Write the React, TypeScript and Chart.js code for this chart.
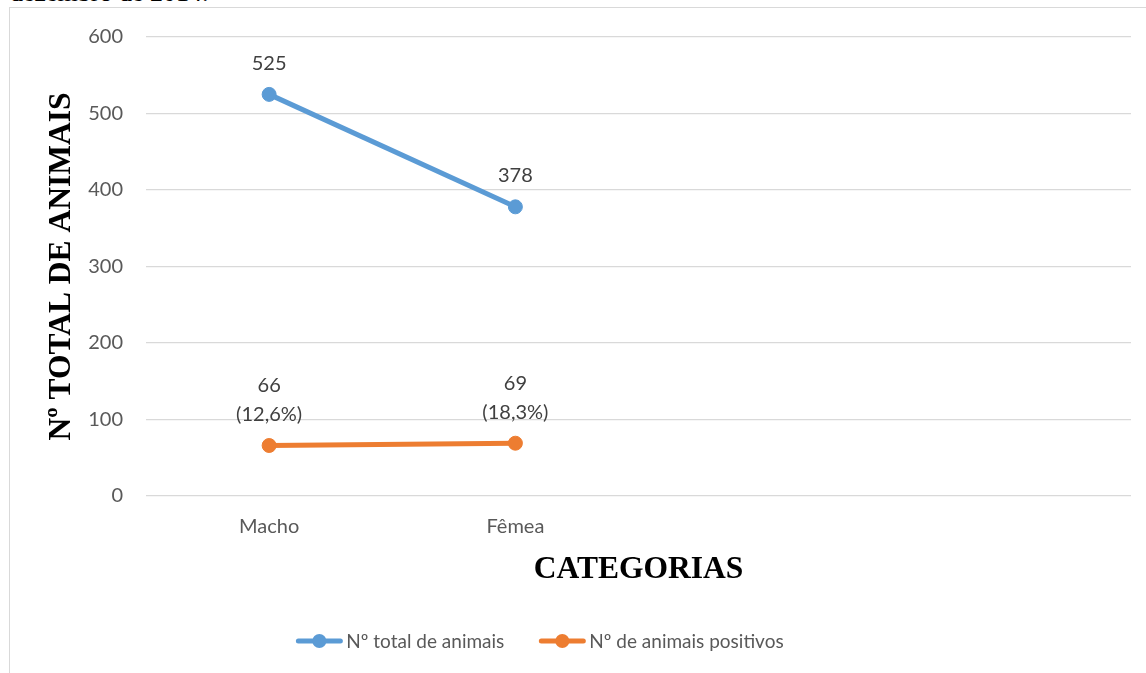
import React, { useEffect, useRef } from "react";
import { Chart, registerables } from "chart.js";

Chart.register(...registerables);

// Categories on the horizontal axis (two trailing empty slots keep the spacing)
const categories = ["Macho", "Fêmea", "", ""];
// Series values
const totalAnimals: (number | null)[] = [525, 378, null, null];
const positiveAnimals: (number | null)[] = [66, 69, null, null];
const seriesNames = ["Nº total de animais", "Nº de animais positivos"];
const seriesColors = ["#5B9BD5", "#ED7D31"];
// Value axis
const yMin = 0;
const yMax = 600;
const yStep = 100;

const axisTitleY = "Nº TOTAL DE ANIMAIS";
const axisTitleX = "CATEGORIAS";
const caption = "dezembro de 2014.";

const sansFont = "Lato, 'Noto Sans', sans-serif";
const serifFont = "'Liberation Serif', 'Times New Roman', serif";

function formatPct(v: number, base: number): string {
  return (Math.round((v / base) * 1000) / 10).toFixed(1).replace(".", ",");
}

// Value labels above each point
const valueLabels = {
  id: "valueLabels",
  afterDatasetsDraw(chart: any) {
    const ctx = chart.ctx;
    ctx.save();
    ctx.font = `20px ${sansFont}`;
    ctx.fillStyle = "#404040";
    ctx.textAlign = "center";
    ctx.textBaseline = "middle";
    chart.data.datasets.forEach((ds: any, di: number) => {
      const meta = chart.getDatasetMeta(di);
      meta.data.forEach((pt: any, i: number) => {
        const v = ds.data[i];
        if (v == null) return;
        let lines: string[];
        if (di === 0) {
          lines = [String(v)];
        } else {
          const base = totalAnimals[i] as number;
          lines = [String(v), `(${formatPct(v, base)}%)`];
        }
        const lastY = pt.y - 31;
        lines.forEach((t, li) => {
          ctx.fillText(t, pt.x, lastY - (lines.length - 1 - li) * 29);
        });
      });
    });
    ctx.restore();
  },
};

// Legend row under the axis: line-with-marker swatch followed by the series name
const lineLegend = {
  id: "lineLegend",
  afterDraw(chart: any) {
    const ctx = chart.ctx;
    const area = chart.chartArea;
    const markerW = 46;
    const textGap = 4;
    const itemGap = 35;
    ctx.save();
    ctx.font = `19px ${sansFont}`;
    const widths = seriesNames.map((n) => markerW + textGap + ctx.measureText(n).width);
    const total = widths.reduce((a, b) => a + b, 0) + itemGap * (widths.length - 1);
    const centerX = area.left + (area.right - area.left) * 0.4;
    const y = chart.height - 32;
    let x = centerX - total / 2;
    seriesNames.forEach((name, i) => {
      const color = seriesColors[i];
      ctx.strokeStyle = color;
      ctx.lineWidth = 5;
      ctx.lineCap = "round";
      ctx.beginPath();
      ctx.moveTo(x + 2, y);
      ctx.lineTo(x + markerW - 2, y);
      ctx.stroke();
      ctx.fillStyle = color;
      ctx.beginPath();
      ctx.arc(x + markerW / 2, y, 7, 0, Math.PI * 2);
      ctx.fill();
      ctx.fillStyle = "#595959";
      ctx.textAlign = "left";
      ctx.textBaseline = "middle";
      ctx.fillText(name, x + markerW + textGap, y + 1);
      x += widths[i] + itemGap;
    });
    ctx.restore();
  },
};

export default function App() {
  const canvasRef = useRef<HTMLCanvasElement | null>(null);

  useEffect(() => {
    if (!canvasRef.current) return;
    const chart = new Chart(canvasRef.current, {
      type: "line",
      data: {
        labels: categories,
        datasets: [
          {
            label: seriesNames[0],
            data: totalAnimals,
            borderColor: seriesColors[0],
            backgroundColor: seriesColors[0],
            pointBackgroundColor: seriesColors[0],
            pointBorderColor: seriesColors[0],
            borderWidth: 5,
            pointRadius: 7,
            pointBorderWidth: 1,
            tension: 0,
          },
          {
            label: seriesNames[1],
            data: positiveAnimals,
            borderColor: seriesColors[1],
            backgroundColor: seriesColors[1],
            pointBackgroundColor: seriesColors[1],
            pointBorderColor: seriesColors[1],
            borderWidth: 5,
            pointRadius: 7,
            pointBorderWidth: 1,
            tension: 0,
          },
        ],
      },
      options: {
        responsive: false,
        animation: false,
        layout: { padding: { top: 29, left: 0, right: 35, bottom: 53 } },
        plugins: {
          tooltip: { enabled: false },
          legend: { display: false },
        },
        scales: {
          x: {
            offset: true,
            grid: { display: false },
            border: { display: false },
            ticks: {
              color: "#595959",
              padding: 11,
              font: { family: sansFont, size: 20 },
            },
            title: {
              display: true,
              text: axisTitleX,
              color: "#000000",
              font: { family: serifFont, size: 31.5, weight: "bold" },
              padding: { top: 0, bottom: 31 },
            },
            afterFit: (s: any) => {
              s.height = 124;
              s.paddingLeft = 0;
              s.paddingRight = 0;
            },
          },
          y: {
            min: yMin,
            max: yMax,
            grid: { color: "#d9d9d9", lineWidth: 1.3, drawTicks: false },
            border: { display: false },
            ticks: {
              stepSize: yStep,
              color: "#595959",
              padding: 23,
              font: { family: sansFont, size: 20 },
            },
            title: {
              display: true,
              text: axisTitleY,
              color: "#000000",
              font: { family: serifFont, size: 31.5, weight: "bold" },
              padding: { top: 33, bottom: 0 },
            },
            afterFit: (s: any) => {
              s.width = 136;
              s.paddingTop = 0;
              s.paddingBottom = 0;
            },
          },
        },
      } as any,
      plugins: [valueLabels, lineLegend],
    });
    return () => chart.destroy();
  }, []);

  return (
    <div
      style={{
        position: "fixed",
        left: 0,
        top: 0,
        width: "100vw",
        height: "100vh",
        overflow: "hidden",
        background: "#ffffff",
      }}
    >
      <div
        style={{
          position: "absolute",
          left: 10,
          top: -20,
          fontFamily: serifFont,
          fontSize: 26,
          lineHeight: 1,
          color: "#000000",
          whiteSpace: "nowrap",
        }}
      >
        {caption}
      </div>
      <div
        style={{
          position: "absolute",
          left: 9,
          top: 7,
          width: 1160,
          height: 700,
          borderLeft: "1px solid #d9d9d9",
          borderTop: "1px solid #d9d9d9",
        }}
      >
        <canvas
          ref={canvasRef}
          width={1156}
          height={665}
          style={{ display: "block", width: 1156, height: 665 }}
        />
      </div>
    </div>
  );
}
